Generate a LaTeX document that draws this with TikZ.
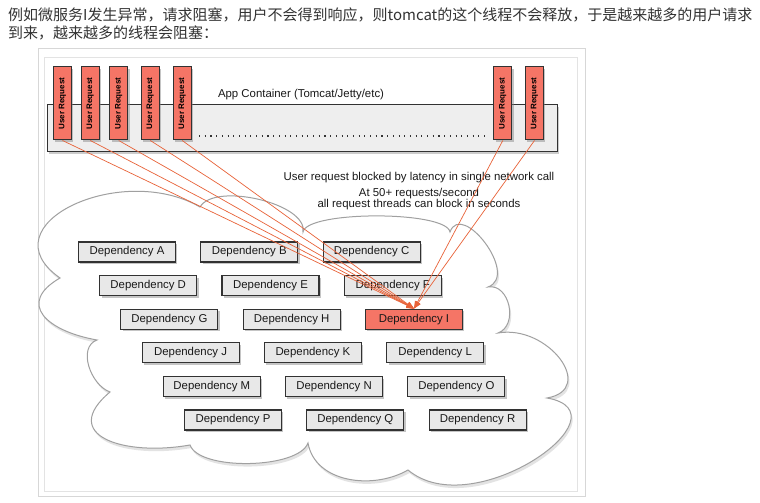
\documentclass[tikz,border=0pt]{standalone}
\usepackage{fontspec}
\setmainfont{Liberation Sans}
\newfontfamily\cjk{Noto Sans CJK SC}
\usetikzlibrary{arrows.meta,shadows,positioning}
\definecolor{reqred}{RGB}{245,117,102}
\definecolor{linkred}{RGB}{232,98,56}
\definecolor{boxgray}{RGB}{232,232,232}
\definecolor{edgegray}{RGB}{50,50,50}
\definecolor{cloudgray}{RGB}{160,160,160}
\definecolor{txtgray}{RGB}{51,51,51}
\definecolor{framegray}{RGB}{215,215,215}

\begin{document}
\begin{tikzpicture}[x=1pt,y=1pt,
  req/.style={draw=edgegray,fill=reqred,line width=1pt,minimum width=18pt,minimum height=73pt,inner sep=0pt,font=\fontsize{8}{9}\selectfont\bfseries,drop shadow={shadow xshift=1.8pt,shadow yshift=-2pt,opacity=.45}},
  dep/.style={draw=edgegray,fill=boxgray,line width=1.1pt,minimum width=97pt,minimum height=20pt,inner sep=0pt,text=black!90,font=\fontsize{11.4}{12}\selectfont,drop shadow={shadow xshift=1.8pt,shadow yshift=-2.2pt,opacity=.45}},
  hot/.style={dep,fill=reqred},
  link/.style={draw=linkred,line width=0.7pt,-{Triangle[length=7.5pt,width=5.5pt]}},
  note/.style={align=center,inner sep=0pt,text=black!90,font=\fontsize{11.4}{11}\selectfont}]
\useasboundingbox (0,0) rectangle (760,503);
\fill[white] (0,0) rectangle (760,503);
\node[anchor=west,inner sep=0pt,text=txtgray,font=\cjk\fontsize{15}{18}\selectfont] (line1) at (8,488) {例如微服务I发生异常，请求阻塞，用户不会得到响应，则tomcat的这个线程不会释放，于是越来越多的用户请求};
\node[anchor=west,inner sep=0pt,text=txtgray,font=\cjk\fontsize{15}{18}\selectfont] (line2) at (8,470) {到来，越来越多的线程会阻塞：};
\draw[framegray,line width=1pt] (38,6) rectangle (585,454);
\draw[framegray!70,line width=0.8pt] (44,12) rectangle (577,446);
\draw[cloudgray,line width=1pt,fill=white,drop shadow={shadow xshift=1.5pt,shadow yshift=-3pt,opacity=.22}]
  (60,225) to[out=145,in=150,looseness=1.5] (200,296)
  to[out=60,in=80,looseness=0.7] (303,271)
  to[out=80,in=100,looseness=0.38] (450,271)
  to[out=70,in=20,looseness=1.3] (488,216)
  to[out=10,in=20,looseness=1.2] (498,170)
  to[out=10,in=10,looseness=1.6] (547,105)
  to[out=-10,in=-40,looseness=1.4] (408,33)
  to[out=-150,in=-80,looseness=1] (308,60)
  to[out=-110,in=-70,looseness=0.6] (190,58)
  to[out=190,in=-140,looseness=1.8] (110,111)
  to[out=160,in=-160,looseness=1] (97,163)
  to[out=170,in=-150,looseness=1.8] (60,225) -- cycle;
\node[draw=edgegray,fill=boxgray!75,line width=1pt,minimum width=509.5pt,minimum height=47pt,inner sep=0pt,drop shadow={shadow xshift=1.8pt,shadow yshift=-2pt,opacity=.4}] (container) at (302.25,374.5) {};
\node[note] (title) at (301,408) {App Container (Tomcat/Jetty/etc)};
\coordinate (dotl) at (199,367);
\coordinate (dotr) at (485,367);
\draw[edgegray,line width=1.1pt,dash pattern=on 1.1pt off 4.6pt] (dotl) -- (dotr);
\node[req] (r1) at (62.5,399.5) {\rotatebox{90}{User Request}};
\node[req] (r2) at (90.3,399.5) {\rotatebox{90}{User Request}};
\node[req] (r3) at (118.7,399.5) {\rotatebox{90}{User Request}};
\node[req] (r4) at (150.3,399.5) {\rotatebox{90}{User Request}};
\node[req] (r5) at (182.2,399.5) {\rotatebox{90}{User Request}};
\node[req] (r6) at (502.8,399.5) {\rotatebox{90}{User Request}};
\node[req] (r7) at (534.5,399.5) {\rotatebox{90}{User Request}};
\node[note] (blocked) at (419,325) {User request blocked by latency in single network call};
\node[note] (rate) at (419,304) {At 50+ requests/second\\all request threads can block in seconds};
\node[dep] (depA) at (127,251) {Dependency A};
\node[dep] (depB) at (249.3,251) {Dependency B};
\node[dep] (depC) at (371.6,251) {Dependency C};
\node[dep] (depD) at (148.2,217.4) {Dependency D};
\node[dep] (depE) at (270.5,217.4) {Dependency E};
\node[dep] (depF) at (392.8,217.4) {Dependency F};
\node[dep] (depG) at (169.4,183.8) {Dependency G};
\node[dep] (depH) at (291.7,183.8) {Dependency H};
\node[hot] (depI) at (414,183.8) {Dependency I};
\node[dep] (depJ) at (190.6,150.2) {Dependency J};
\node[dep] (depK) at (312.9,150.2) {Dependency K};
\node[dep] (depL) at (435.2,150.2) {Dependency L};
\node[dep] (depM) at (211.8,116.6) {Dependency M};
\node[dep] (depN) at (334.1,116.6) {Dependency N};
\node[dep] (depO) at (456.4,116.6) {Dependency O};
\node[dep] (depP) at (233,83) {Dependency P};
\node[dep] (depQ) at (355.3,83) {Dependency Q};
\node[dep] (depR) at (477.6,83) {Dependency R};
\draw[link] (r1.south) -- (depI.north);
\draw[link] (r2.south) -- (depI.north);
\draw[link] (r3.south) -- (depI.north);
\draw[link] (r4.south) -- (depI.north);
\draw[link] (r5.south) -- (depI.north);
\draw[link] (r6.south) -- (depI.north);
\draw[link] (r7.south) -- (depI.north);
\end{tikzpicture}
\end{document}
